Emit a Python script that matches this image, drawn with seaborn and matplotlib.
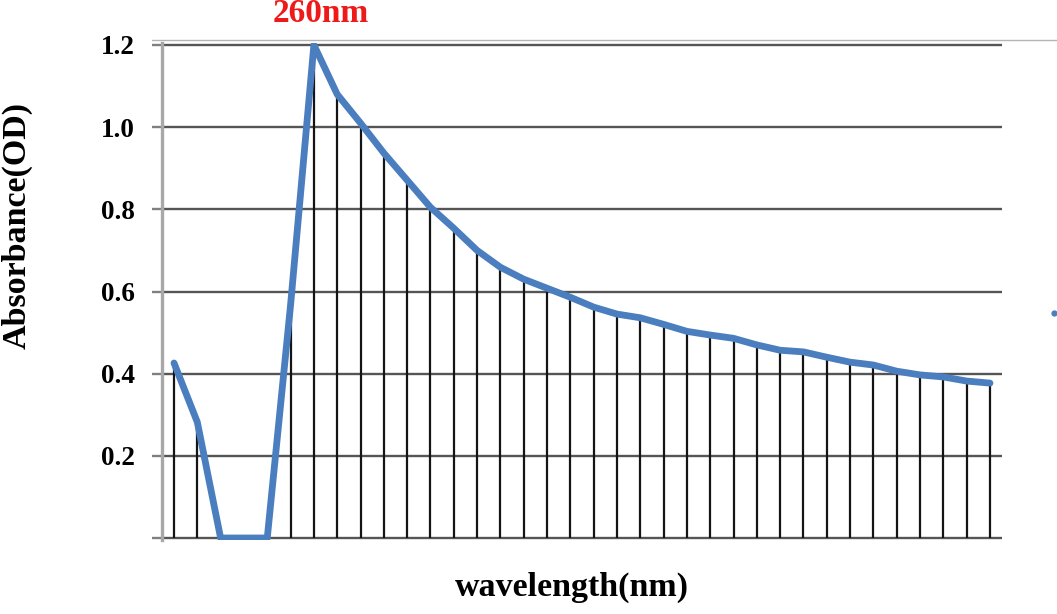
import numpy as np
import pandas as pd
import matplotlib
matplotlib.use("Agg")
import matplotlib.pyplot as plt
from matplotlib.lines import Line2D
import seaborn as sns

# wavelength (nm) and absorbance
wavelength = list(range(200, 551, 10))
absorbance = [0.426, 0.282, 0.0, 0.0, 0.0, 0.567, 1.20, 1.08, 1.01, 0.937,
              0.871, 0.805, 0.754, 0.700, 0.659, 0.630, 0.608, 0.586, 0.562, 0.545,
              0.536, 0.520, 0.503, 0.494, 0.486, 0.470, 0.457, 0.453, 0.440, 0.428,
              0.421, 0.406, 0.397, 0.392, 0.382, 0.377]
y_ticks = [0.0, 0.2, 0.4, 0.6, 0.8, 1.0, 1.2]
y_tick_labels = ['', '0.2', '0.4', '0.6', '0.8', '1.0', '1.2']
peak_label = '260nm'

df = pd.DataFrame({'wavelength': wavelength, 'absorbance': absorbance})

sns.set_style('white')
plt.rcParams['font.family'] = ['Liberation Serif', 'DejaVu Serif']
plt.rcParams['text.color'] = 'black'

W, H = 1057, 614
fig = plt.figure(figsize=(W / 100, H / 100), dpi=100)

# axes placement in pixels: y axis line at 162, right end 1002; y=0 at 538, 1.2 at 45
pad = 0.006
ppu = (538 - 45) / 1.2
y_bot = 538 + pad * ppu
y_top = 45 - pad * ppu
ax = fig.add_axes([162 / W, (H - y_bot) / H, (1002 - 162) / W, (y_bot - y_top) / H])

ax.set_ylim(-pad, 1.2 + pad)
ppx = (990 - 174) / 350
ax.set_xlim(200 - (174 - 162) / ppx, 550 + (1002 - 990) / ppx)

ax.set_yticks(y_ticks)
ax.set_yticklabels(y_tick_labels)
ax.set_xticks([])
ax.grid(axis='y', color='#555555', lw=1.7)
ax.set_axisbelow(True)

for s in ['top', 'right', 'bottom']:
    ax.spines[s].set_visible(False)
ax.spines['left'].set_color('#a8a8a8')
ax.spines['left'].set_linewidth(2.4)

ax.tick_params(axis='y', length=7.5, width=1.7, color='#808080', pad=12,
               labelsize=19.5, labelcolor='black', direction='out', left=True)
for lab in ax.get_yticklabels():
    lab.set_fontweight('bold')

# drop lines from each point down to zero
ax.vlines(df['wavelength'], 0, df['absorbance'], color='#141414', lw=1.6, zorder=2)

sns.lineplot(data=df, x='wavelength', y='absorbance', ax=ax, color='#4a7ebf',
             lw=4.9, solid_joinstyle='round', solid_capstyle='round', zorder=3)
ax.set_xlabel('')
ax.set_ylabel('')

fig.text(572 / W, 1 - 596 / H, 'wavelength(nm)', ha='center', va='baseline',
         fontsize=24.5, fontweight='bold', color='black')
fig.text(17 / W, 1 - 226 / H, 'Absorbance(OD)', ha='center', va='center',
         rotation=90, fontsize=24.5, fontweight='bold', color='black')
fig.text(321 / W, 1 - 14 / H, peak_label, ha='center', va='center',
         fontsize=24, fontweight='bold', color='#ee1a1a')

# thin frame line at the top and stray legend marker at the right edge
fig.add_artist(Line2D([152 / W, 1.0], [1 - 39.5 / H, 1 - 39.5 / H],
                      transform=fig.transFigure, color='#b4b4b4', lw=1.0))
fig.add_artist(Line2D([1054 / W], [1 - 313 / H], transform=fig.transFigure,
                      marker='o', ms=3.5, color='#4a7ebf', lw=0))

fig.savefig('out.png', dpi=100)
